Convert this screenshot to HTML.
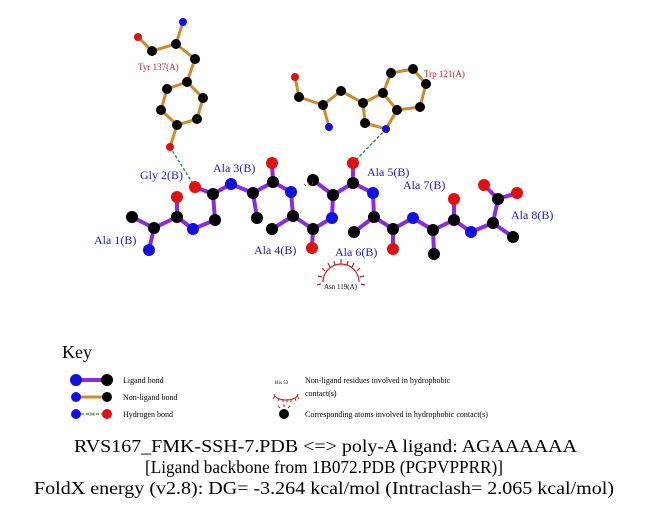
<!DOCTYPE html>
<html><head><meta charset="utf-8"><style>
html,body{margin:0;padding:0;background:#fff;}
svg{display:block;font-family:"Liberation Serif",serif;}
</style></head><body>
<svg width="651" height="511" viewBox="0 0 651 511" xmlns="http://www.w3.org/2000/svg">
<!-- Tyr 137 -->
<g stroke="#cc8a2a" stroke-width="3" fill="none">
<polyline points="138,37 152,51 176,44 183,22"/>
<polyline points="176,44 195,59 187,82"/>
<polygon points="187,82 167,89 161,110 177,125 197,119 203,98"/>
<line x1="177" y1="125" x2="170" y2="147"/>
<!-- Trp 121 -->
<polyline points="295,77 299,97 323,105 329,127"/>
<polyline points="323,105 341,91 363,103"/>
<polygon points="363,103 365,123 386,129 397,110 383,93"/>
<polyline points="383,93 391,73 413,69 426,84 420,107 397,110"/>
</g>
<!-- H bonds -->
<g stroke="#2a8a2a" stroke-width="1.3" stroke-dasharray="3,2">
<line x1="170" y1="147" x2="195" y2="187"/>
<line x1="386" y1="129" x2="353" y2="163"/>
</g>
<!-- ligand -->
<g stroke="#8a2be2" stroke-width="4" fill="none" stroke-linejoin="round">
<polyline points="149,250 154,228 132,217"/>
<polyline points="154,228 177,217 177,197"/>
<polyline points="177,217 193,229 215,220 213,194 195,187"/>
<polyline points="213,194 231,184 253,193 257,218"/>
<polyline points="253,193 273,182 272,163"/>
<polyline points="273,182 291,192 293,216 272,229"/>
<polyline points="293,216 313,229 312,248"/>
<polyline points="313,229 332,218 333,195 313,180"/>
<polyline points="333,195 353,183 353,163"/>
<polyline points="353,183 373,193 374,217 354,232"/>
<polyline points="374,217 393,229 393,249"/>
<polyline points="393,229 413,218 433,230 434,254"/>
<polyline points="433,230 454,220 454,199"/>
<polyline points="454,220 471,232 493,223 513,237"/>
<polyline points="493,223 498,199 484,185"/>
<line x1="498" y1="199" x2="517" y2="193"/>
</g>
<!-- atoms -->
<g fill="#000">
<circle cx="152" cy="51" r="5"/><circle cx="176" cy="44" r="5"/><circle cx="195" cy="59" r="5"/>
<circle cx="187" cy="82" r="5"/><circle cx="167" cy="89" r="5"/><circle cx="161" cy="110" r="5"/>
<circle cx="177" cy="125" r="5"/><circle cx="197" cy="119" r="5"/><circle cx="203" cy="98" r="5"/>
<circle cx="299" cy="97" r="5"/><circle cx="323" cy="105" r="5"/><circle cx="341" cy="91" r="5"/>
<circle cx="363" cy="103" r="5"/><circle cx="365" cy="123" r="5"/><circle cx="397" cy="110" r="5"/>
<circle cx="383" cy="93" r="5"/><circle cx="391" cy="73" r="5"/><circle cx="413" cy="69" r="5"/>
<circle cx="426" cy="84" r="5"/><circle cx="420" cy="107" r="5"/>
<circle cx="154" cy="228" r="6"/><circle cx="132" cy="217" r="6"/><circle cx="177" cy="217" r="6"/>
<circle cx="215" cy="220" r="6"/><circle cx="213" cy="194" r="6"/>
<circle cx="253" cy="193" r="6"/><circle cx="257" cy="218" r="6"/><circle cx="273" cy="182" r="6"/>
<circle cx="293" cy="216" r="6"/><circle cx="272" cy="229" r="6"/><circle cx="313" cy="229" r="6"/>
<circle cx="333" cy="195" r="6"/><circle cx="313" cy="180" r="6"/><circle cx="353" cy="183" r="6"/>
<circle cx="374" cy="217" r="6"/><circle cx="354" cy="232" r="6"/><circle cx="393" cy="229" r="6"/>
<circle cx="433" cy="230" r="6"/><circle cx="434" cy="254" r="6"/><circle cx="454" cy="220" r="6"/>
<circle cx="493" cy="223" r="6"/><circle cx="513" cy="237" r="6"/><circle cx="498" cy="199" r="6"/>
</g>
<g fill="#1010e0">
<circle cx="183" cy="22" r="4"/><circle cx="329" cy="127" r="4"/><circle cx="386" cy="129" r="4"/>
<circle cx="149" cy="250" r="6"/><circle cx="193" cy="229" r="6"/><circle cx="231" cy="184" r="6"/>
<circle cx="291" cy="192" r="6"/><circle cx="332" cy="218" r="6"/><circle cx="373" cy="193" r="6"/>
<circle cx="413" cy="218" r="6"/><circle cx="471" cy="232" r="6"/>
</g>
<g fill="#e01010">
<circle cx="138" cy="37" r="4"/><circle cx="170" cy="147" r="4"/><circle cx="295" cy="77" r="4"/>
<circle cx="177" cy="197" r="6"/><circle cx="195" cy="187" r="6"/><circle cx="272" cy="163" r="6"/>
<circle cx="312" cy="248" r="6"/><circle cx="353" cy="163" r="6"/><circle cx="393" cy="249" r="6"/>
<circle cx="454" cy="199" r="6"/><circle cx="484" cy="185" r="6"/><circle cx="517" cy="193" r="6"/>
</g>
<!-- hydrophobic arc -->
<g stroke="#cc2222" stroke-width="1.2" fill="none">
<path d="M323,282 A18,18 0 0 1 359,282"/>
<path d="M321,284 l-4,1 M322,277 l-4,-1 M325,271 l-3,-3 M330,267 l-2,-4 M335,265 l-1,-4 M341,264 l0,-5 M347,265 l1,-4 M352,267 l2,-4 M357,271 l3,-3 M360,277 l4,-1 M361,284 l4,1"/>
<path d="M306,186 l-2,-2 M309,185 l-1,-3 M312,185 l1,-3" stroke-width="0.8"/>
</g>
<!-- labels -->
<g fill="#cc2222" font-size="9">
<text x="138" y="70">Tyr 137(A)</text>
<text x="424" y="77">Trp 121(A)</text>
</g>
<text x="324" y="289" font-size="7" fill="#000">Asn 119(A)</text>
<g fill="#1a1acc" font-size="12">
<text x="140" y="179">Gly 2(B)</text>
<text x="213" y="172">Ala 3(B)</text>
<text x="94" y="244">Ala 1(B)</text>
<text x="254" y="254">Ala 4(B)</text>
<text x="335" y="256">Ala 6(B)</text>
<text x="367" y="176">Ala 5(B)</text>
<text x="403" y="189">Ala 7(B)</text>
<text x="511" y="219">Ala 8(B)</text>
</g>
<!-- Key -->
<text x="62" y="358" font-size="18">Key</text>
<line x1="76" y1="380" x2="107" y2="380" stroke="#8a2be2" stroke-width="4"/>
<circle cx="76" cy="380" r="6" fill="#1010e0"/><circle cx="107" cy="380" r="6" fill="#000"/>
<line x1="76" y1="397" x2="107" y2="397" stroke="#cc8a2a" stroke-width="3"/>
<circle cx="76" cy="397" r="5" fill="#1010e0"/><circle cx="107" cy="397" r="5" fill="#000"/>
<line x1="76" y1="414" x2="107" y2="414" stroke="#2a8a2a" stroke-width="1.3" stroke-dasharray="3,2"/>
<circle cx="76" cy="414" r="5" fill="#1010e0"/><circle cx="107" cy="414" r="5" fill="#e01010"/>
<text x="89" y="416" font-size="5" fill="#2a8a2a">3.0</text>
<g font-size="8" fill="#000">
<text x="123" y="383">Ligand bond</text>
<text x="123" y="400">Non-ligand bond</text>
<text x="123" y="417">Hydrogen bond</text>
<text x="305" y="383">Non-ligand residues involved in hydrophobic</text>
<text x="305" y="396">contact(s)</text>
<text x="305" y="417">Corresponding atoms involved in hydrophobic contact(s)</text>
</g>
<text x="275" y="384" font-size="5" fill="#000">His 53</text>
<g stroke="#cc2222" stroke-width="1" fill="none">
<path d="M274,394 A12,6 0 0 0 298,394"/>
<path d="M275,396 l-2,3 M279,398 l-1,3 M283,399 l0,3 M287,399 l0,3 M291,399 l0,3 M295,398 l1,3 M297,396 l2,3"/>
<path d="M284,407 l0,-3 M280,408 l-2,-2 M288,408 l2,-2"/>
</g>
<circle cx="284" cy="414" r="5" fill="#000"/>
<!-- title -->
<g font-size="18" fill="#000" text-anchor="middle">
<text x="325.5" y="452" textLength="503" lengthAdjust="spacingAndGlyphs">RVS167_FMK-SSH-7.PDB &lt;=&gt; poly-A ligand: AGAAAAAA</text>
<text x="324" y="473" textLength="358" lengthAdjust="spacingAndGlyphs">[Ligand backbone from 1B072.PDB (PGPVPPRR)]</text>
<text x="324" y="494" textLength="580" lengthAdjust="spacingAndGlyphs">FoldX energy (v2.8): DG= -3.264 kcal/mol (Intraclash= 2.065 kcal/mol)</text>
</g>
</svg>
</body></html>
